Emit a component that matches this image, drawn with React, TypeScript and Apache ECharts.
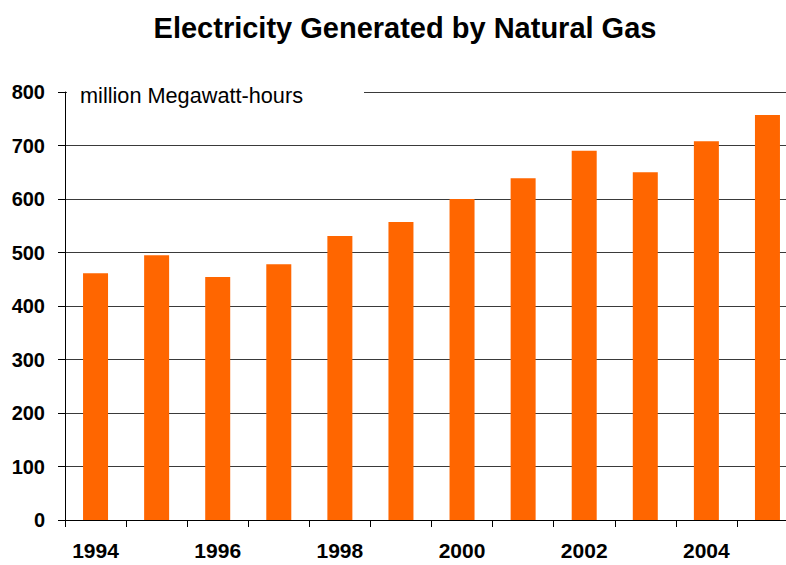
import React, { useEffect, useRef } from "react";
import * as echarts from "echarts";

const years = ["1994", "1995", "1996", "1997", "1998", "1999", "2000", "2001", "2002", "2003", "2004", "2005"];
const generation = [461, 495, 454, 478, 531, 557, 600, 639, 690, 650, 708, 757];
const titleText = "Electricity Generated by Natural Gas";
const unitText = "million Megawatt-hours";

const FONT = "'Liberation Sans', Arial, Helvetica, sans-serif";

export default function App() {
  const ref = useRef<HTMLDivElement>(null);
  useEffect(() => {
    document.body.style.margin = "0";
    const chart = echarts.init(ref.current!, null, { renderer: "svg" });
    chart.setOption({
      animation: false,
      backgroundColor: "#ffffff",
      grid: {
        left: 65,
        top: 92,
        width: 733,
        height: 428,
        containLabel: false,
        outerBoundsMode: "none",
      },
      xAxis: {
        type: "category",
        data: years,
        boundaryGap: true,
        axisLine: { show: true, onZero: false, lineStyle: { color: "#000", width: 1 } },
        axisTick: { show: true, interval: 0, length: 7, inside: false, lineStyle: { color: "#000" } },
        axisLabel: {
          interval: 1,
          margin: 20,
          color: "#000",
          fontFamily: FONT,
          fontWeight: "bold",
          fontSize: 21,
        },
        splitLine: { show: false },
      },
      yAxis: {
        type: "value",
        position: "left",
        min: 0,
        max: 800,
        interval: 100,
        axisLine: { show: true, onZero: false, lineStyle: { color: "#000", width: 1 } },
        axisTick: { show: true, length: 7, inside: false, lineStyle: { color: "#000", width: 1 } },
        axisLabel: {
          margin: 20,
          color: "#000",
          fontFamily: FONT,
          fontWeight: "bold",
          fontSize: 20,
        },
        splitLine: { show: true, lineStyle: { color: "#3a3a3a", width: 1 } },
      },
      series: [
        {
          type: "bar",
          data: generation,
          barWidth: 25,
          itemStyle: { color: "#ff6600" },
        },
      ],
      graphic: [
        {
          type: "text",
          x: 405,
          y: 28,
          style: {
            text: titleText,
            font: `bold 29px ${FONT}`,
            fill: "#000",
            textAlign: "center",
            textVerticalAlign: "middle",
          },
        },
        {
          type: "rect",
          shape: { x: 67, y: 84, width: 297, height: 20 },
          style: { fill: "#ffffff" },
          z: 100,
        },
        {
          type: "text",
          x: 80,
          y: 95,
          z: 101,
          style: {
            text: unitText,
            font: `21.7px ${FONT}`,
            fill: "#000",
            textAlign: "left",
            textVerticalAlign: "middle",
          },
        },
      ],
    });
    return () => chart.dispose();
  }, []);
  return <div ref={ref} style={{ width: 786, height: 565 }} />;
}
